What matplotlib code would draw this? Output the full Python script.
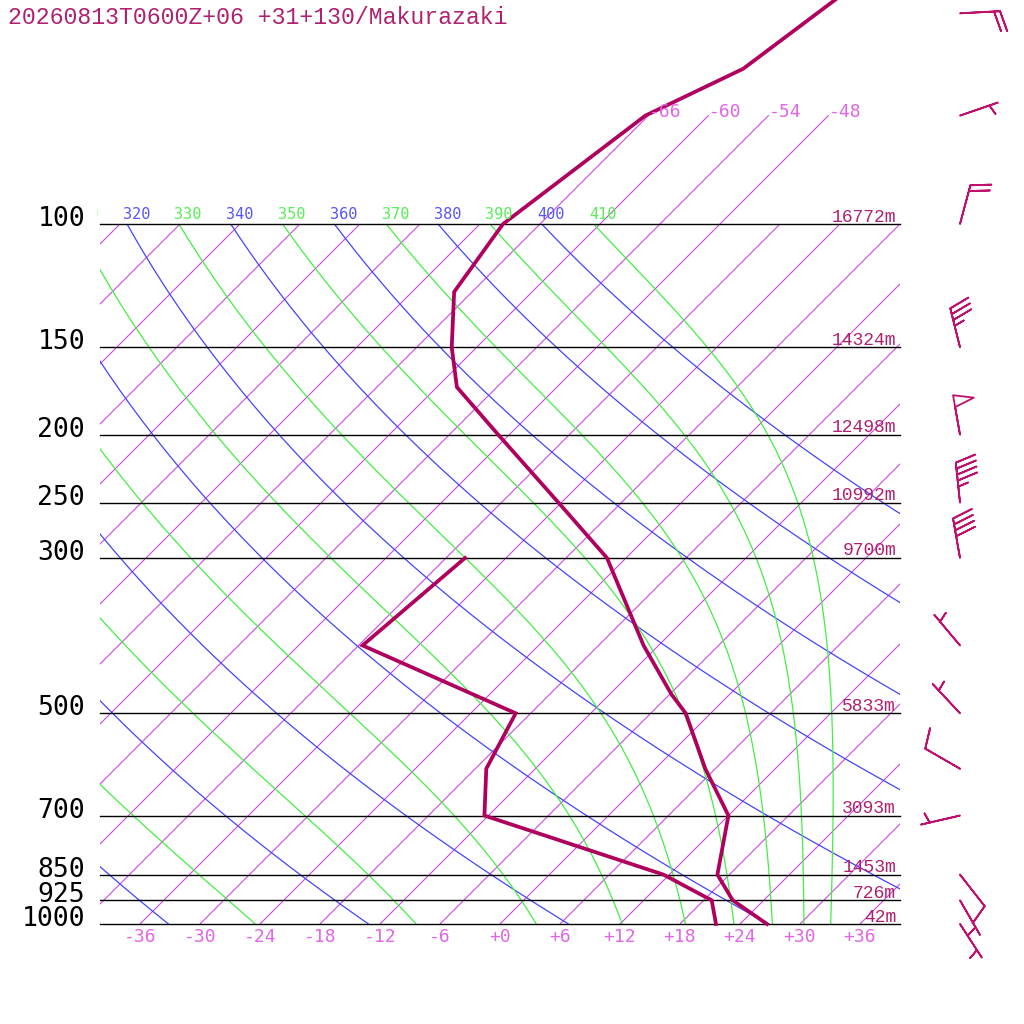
import numpy as np
import matplotlib
matplotlib.use('Agg')
import matplotlib.pyplot as plt
from matplotlib.patches import Rectangle
from matplotlib.transforms import Bbox, TransformedBbox

title = '20260813T0600Z+06 +31+130/Makurazaki'

# standard levels and their heights
levels = [1000, 925, 850, 700, 500, 300, 250, 200, 150, 100]
heights = ['42m', '726m', '1453m', '3093m', '5833m', '9700m',
           '10992m', '12498m', '14324m', '16772m']

# temperature profile (hPa, degC)
t_pres = [1000, 925, 850, 700, 600, 500, 470, 400, 300, 250, 200, 171,
          150, 125, 100, 70, 60, 40]
t_temp = [26.7, 20.9, 16.8, 12.0, 5.0, -2.5, -5.8, -13.5, -25.9, -36.3,
          -49.1, -58.0, -62.5, -67.8, -69.7, -66.3, -61.2, -57.1]

# dewpoint profile
d_pres = [1000, 925, 850, 700, 600, 500, 400, 300]
d_temp = [21.6, 18.8, 11.4, -12.4, -16.9, -19.5, -41.6, -40.1]

# winds (direction from, knots)
w_pres = [50, 70, 100, 150, 200, 250, 300, 400, 500, 600, 700, 850, 925, 1000]
w_dir = [87, 71, 15, 346, 350, 354, 350, 320, 317, 300, 257, 142, 150, 147]
w_kt = [20, 5, 20, 35, 50, 45, 40, 5, 5, 10, 5, 10, 5, 5]

isotherms = np.arange(-108, 37, 6)
top_isotherms = [-66, -60, -54, -48]
tick_temps = np.arange(-36, 37, 6)
dry_thetas = np.arange(220, 401, 20)
moist_thetas = np.arange(230, 411, 20)

K = 30.4          # skew / log-p scale
RD, CP, LV, EPS = 287.04, 1005.7, 2.501e6, 0.622
KAP = RD / CP


def skew(t, p):
    y = K * np.log(1000.0 / np.asarray(p, dtype=float))
    return np.asarray(t, dtype=float) + y, y


def moist_lapse(tk, p):
    tc = tk - 273.15
    es = 6.112 * np.exp(17.67 * tc / (tc + 243.5))
    rs = EPS * es / (p - es)
    return (RD * tk + LV * rs) / (CP + LV * LV * rs * EPS / (RD * tk * tk)) / p


def moist_adiabat(theta):
    ps = np.linspace(100, 1000, 361)
    tk = theta * (0.1) ** KAP
    out = [tk]
    for i in range(len(ps) - 1):
        p, h = ps[i], ps[i + 1] - ps[i]
        k1 = moist_lapse(tk, p)
        k2 = moist_lapse(tk + h / 2 * k1, p + h / 2)
        k3 = moist_lapse(tk + h / 2 * k2, p + h / 2)
        k4 = moist_lapse(tk + h * k3, p + h)
        tk = tk + h / 6 * (k1 + 2 * k2 + 2 * k3 + k4)
        out.append(tk)
    return ps, np.array(out) - 273.15


fig = plt.figure(figsize=(10.24, 10.24), dpi=100)
ax = fig.add_axes([0, 0, 1, 1])
ax.set_xlim(-50, 52.4)
ax.set_ylim(-10, 92.4)
ax.axis('off')

box = Rectangle((-40, 0), 80, 70, transform=ax.transData, fill=False)
mono = 'DejaVu Sans Mono'
cour = 'Liberation Mono'
iso_col = '#d048e4'
lab_col = '#e066e6'

# isotherms
pp = np.array([1000.0, 100.0])
for t in isotherms:
    x, y = skew([t, t], pp)
    ln, = ax.plot(x, y, color=iso_col, lw=0.8)
    ln.set_clip_path(box)
for t in top_isotherms:
    x, y = skew([t, t], [100.0, 70.0])
    ax.plot(x, y, color=iso_col, lw=0.8)
    ax.text(x[1], y[1] - 0.15, '%+d' % t, color=lab_col, fontsize=13,
            family=mono, ha='left', va='baseline')

# dry adiabats
pline = np.linspace(100, 1000, 200)
for th in dry_thetas:
    x, y = skew(th * (pline / 1000.0) ** KAP - 273.15, pline)
    ln, = ax.plot(x, y, color='#4444ff', lw=0.9)
    ln.set_clip_path(box)

# moist adiabats
for th in moist_thetas:
    ps, tc = moist_adiabat(th)
    x, y = skew(tc, ps)
    ln, = ax.plot(x, y, color='#44ee44', lw=0.9)
    ln.set_clip_path(box)

# theta labels along the 100 hPa line
clipbb = TransformedBbox(Bbox([[-40.3, -20], [40, 100]]), ax.transData)
for th in np.arange(310, 411, 10):
    x, y = skew(th * 0.1 ** KAP - 273.15, 100.0)
    col = '#5555ff' if th % 20 == 0 else '#55ee55'
    txt = ax.text(x - 0.45, y + 0.55, str(th), color=col, fontsize=11,
                  family=mono, ha='left', va='baseline', clip_on=True)
    txt.set_clip_box(clipbb)

# pressure levels
for p, h in zip(levels, heights):
    x, y = skew([-40 - K * np.log(1000.0 / p), 40 - K * np.log(1000.0 / p)], [p, p])
    ax.plot(x, y, color='black', lw=1.0)
    ax.text(-41.5, y[0] - 0.2, str(p), color='black', fontsize=19,
            family=mono, ha='right', va='baseline')
    ax.text(39.6, y[0] + 0.25, h, color='#b0206e', fontsize=13,
            family=cour, ha='right', va='baseline')

# temperature axis labels
for t in tick_temps:
    lab = '+0' if t == 0 else '%+d' % t
    ax.text(t, -1.3, lab, color=lab_col, fontsize=13, family=mono,
            ha='center', va='center')

# profiles
x, y = skew(t_temp, t_pres)
ax.plot(x, y, color='#b0005e', lw=2.7, solid_joinstyle='miter', clip_on=False)
x, y = skew(d_temp, d_pres)
ax.plot(x, y, color='#b0005e', lw=2.7, solid_joinstyle='miter', clip_on=False)

# wind barbs
wd = np.radians(w_dir)
u = -np.array(w_kt) * np.sin(wd)
v = -np.array(w_kt) * np.cos(wd)
wy = K * np.log(1000.0 / np.array(w_pres, dtype=float))
ax.barbs(np.full(len(w_pres), 46.0), wy, u, v, length=7.6, pivot='tip',
         barbcolor='#c0106e', flagcolor='none', linewidth=1.3,
         sizes=dict(spacing=0.15, height=0.5, width=0.3),
         fill_empty=False, clip_on=False)

fig.text(8 / 1024, 1 - 18 / 1024, title, color='#b0206e', fontsize=16.7,
         family=cour, ha='left', va='center')

fig.savefig('out.png', dpi=100, facecolor='white')
